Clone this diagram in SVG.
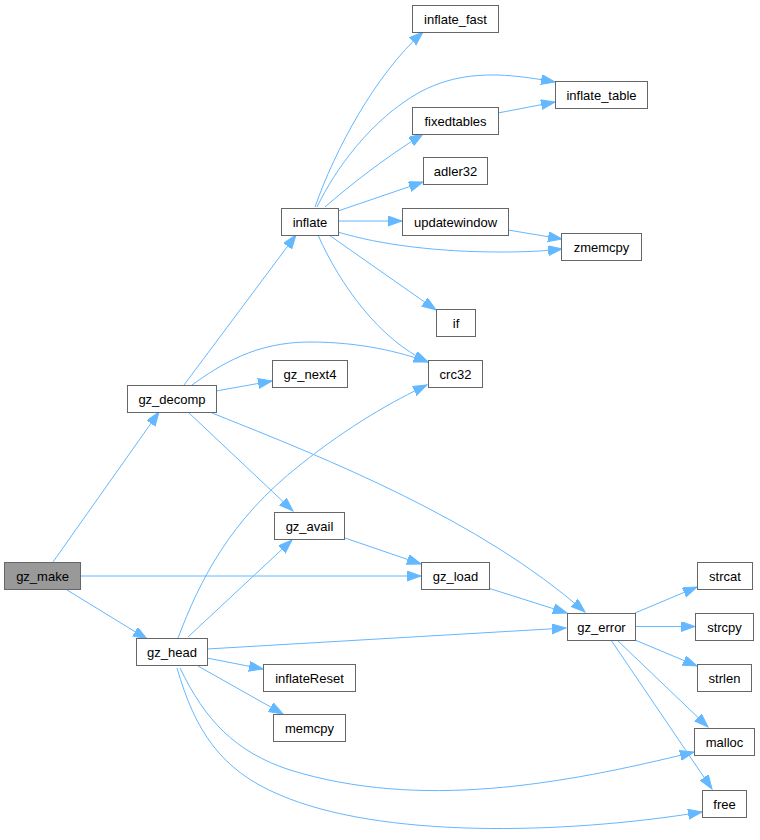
<svg xmlns="http://www.w3.org/2000/svg" width="760" height="840" viewBox="0 0 760 840">
<defs>
<marker id="ah" markerUnits="userSpaceOnUse" markerWidth="15" markerHeight="11" refX="14" refY="5" orient="auto">
<path d="M0,0 L14,5 L0,10 z" fill="#63b8ff" stroke="#63b8ff" stroke-width="1"/>
</marker>
<style>
.n rect{fill:#ffffff;stroke:#666666;stroke-width:1}
#gz_make rect{fill:#999999}
.n text{font-family:"Liberation Sans",Arial,Helvetica,sans-serif;font-size:13px;fill:#000000;text-anchor:middle}
.e path{fill:none;stroke:#63b8ff;stroke-width:1;marker-end:url(#ah)}
</style>
</defs>
<rect x="0" y="0" width="760" height="840" fill="#ffffff"/>
<g id="edges" class="e">
<path d="M53,562 L159,412"/>
<path d="M80,576 L421,576"/>
<path d="M67,590 L147,639"/>
<path d="M184,385 L296,235"/>
<path d="M192,385 C220,365 255,342 310,342 C360,342 400,352 428,362"/>
<path d="M216,391 L272,381"/>
<path d="M188,412 L293,511"/>
<path d="M212,413 C330,460 480,520 585,612"/>
<path d="M178,638 C200,580 230,520 300,465 C350,425 395,400 427,385"/>
<path d="M188,637 L292,540"/>
<path d="M207,649 L566,628"/>
<path d="M207,658 L263,669"/>
<path d="M198,666 L283,714"/>
<path d="M180,668 C205,720 235,752 290,770 C420,810 560,785 694,752"/>
<path d="M177,668 C195,730 220,770 280,795 C380,838 560,835 702,812"/>
<path d="M345,538 L421,564"/>
<path d="M488,588 L567,613"/>
<path d="M635,613 L697,587"/>
<path d="M635,626.5 L695,626.5"/>
<path d="M635,640 L697,666"/>
<path d="M617,640 L708,727"/>
<path d="M611,640 L712,789"/>
<path d="M315,207 C335,150 375,75 423,32"/>
<path d="M317,207 C335,170 370,120 420,92 C465,68 510,74 555,82"/>
<path d="M325,207 C350,185 385,158 423,134"/>
<path d="M338,211 L423,182"/>
<path d="M338,221 L402,221"/>
<path d="M338,232 C380,245 440,252 500,252 C525,252 545,251 562,249"/>
<path d="M329,235 L436,310"/>
<path d="M318,235 C340,285 380,340 428,362"/>
<path d="M498,113 L555,102"/>
<path d="M508,230 L562,239"/>
</g>
<g id="gz_make" class="n"><rect x="4.5" y="562.5" width="76" height="27"/><text x="42.5" y="580.5">gz_make</text></g>
<g id="gz_decomp" class="n"><rect x="127.5" y="385.5" width="89" height="27"/><text x="172" y="403.5">gz_decomp</text></g>
<g id="inflate" class="n"><rect x="281.5" y="208.5" width="57" height="27"/><text x="310" y="226.5">inflate</text></g>
<g id="inflate_fast" class="n"><rect x="412.5" y="5.5" width="86" height="27"/><text x="455.5" y="23.5">inflate_fast</text></g>
<g id="inflate_table" class="n"><rect x="555.5" y="81.5" width="92" height="27"/><text x="601.5" y="99.5">inflate_table</text></g>
<g id="fixedtables" class="n"><rect x="412.5" y="107.5" width="86" height="27"/><text x="455.5" y="125.5">fixedtables</text></g>
<g id="adler32" class="n"><rect x="423.5" y="157.5" width="64" height="27"/><text x="455.5" y="175.5">adler32</text></g>
<g id="updatewindow" class="n"><rect x="402.5" y="208.5" width="106" height="27"/><text x="455.5" y="226.5">updatewindow</text></g>
<g id="zmemcpy" class="n"><rect x="561.5" y="233.5" width="80" height="27"/><text x="601.5" y="251.5">zmemcpy</text></g>
<g id="if" class="n"><rect x="436.5" y="309.5" width="39" height="27"/><text x="456" y="327.5">if</text></g>
<g id="crc32" class="n"><rect x="428.5" y="360.5" width="54" height="27"/><text x="455.5" y="378.5">crc32</text></g>
<g id="gz_next4" class="n"><rect x="272.5" y="360.5" width="75" height="27"/><text x="310" y="378.5">gz_next4</text></g>
<g id="gz_avail" class="n"><rect x="274.5" y="512.5" width="70" height="27"/><text x="309.5" y="530.5">gz_avail</text></g>
<g id="gz_load" class="n"><rect x="421.5" y="562.5" width="68" height="27"/><text x="455.5" y="580.5">gz_load</text></g>
<g id="gz_head" class="n"><rect x="136.5" y="638.5" width="71" height="27"/><text x="172" y="656.5">gz_head</text></g>
<g id="inflateReset" class="n"><rect x="263.5" y="664.5" width="92" height="27"/><text x="309.5" y="682.5">inflateReset</text></g>
<g id="memcpy" class="n"><rect x="273.5" y="714.5" width="72" height="27"/><text x="309.5" y="732.5">memcpy</text></g>
<g id="gz_error" class="n"><rect x="567.5" y="613.5" width="68" height="27"/><text x="601.5" y="631.5">gz_error</text></g>
<g id="strcat" class="n"><rect x="697.5" y="562.5" width="55" height="27"/><text x="725" y="580.5">strcat</text></g>
<g id="strcpy" class="n"><rect x="695.5" y="613.5" width="58" height="27"/><text x="724.5" y="631.5">strcpy</text></g>
<g id="strlen" class="n"><rect x="697.5" y="664.5" width="54" height="27"/><text x="724.5" y="682.5">strlen</text></g>
<g id="malloc" class="n"><rect x="694.5" y="728.5" width="60" height="27"/><text x="724.5" y="746.5">malloc</text></g>
<g id="free" class="n"><rect x="702.5" y="790.5" width="44" height="27"/><text x="724.5" y="808.5">free</text></g>
</svg>
